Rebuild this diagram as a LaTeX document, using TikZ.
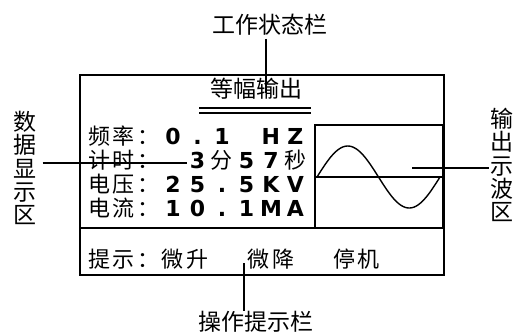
\documentclass[tikz,border=0pt]{standalone}
\usepackage{fontspec}
\setmainfont{Noto Sans CJK SC}
\newfontfamily\latinfont{DejaVu Sans}
\newcommand\gc[1]{\makebox[24.5pt]{#1}}
\newcommand\gd[1]{\makebox[24.5pt]{\latinfont\bfseries #1}}
\newcommand\hs{\makebox[12.25pt]{}}

\begin{document}
\begin{tikzpicture}[x=1pt, y=-1pt,
    label/.style={inner sep=0pt, font=\fontsize{23}{23.4}\selectfont},
    rowtext/.style={inner sep=0pt, anchor=west, font=\fontsize{22}{23}\selectfont},
    leader/.style={line width=1.2pt},
    frame/.style={line width=1.3pt},
    scope/.style={line width=2.2pt},
    wave/.style={line width=1.4pt}]
    \useasboundingbox (0,0) rectangle (514,333);
    \fill[white] (0,0) rectangle (514,333);
    \draw[frame] (80,75) rectangle (444,275);
    \draw[frame] (80,228) -- (444,228);
    \node[label] (status) at (270,25) {工作状态栏};
    \node[label] (title) at (256,89) {等幅输出};
    \draw[frame] (199,108) -- (311,108);
    \draw[frame] (199,113) -- (311,113);
    \node[rowtext] (freq) at (87,136) {\gc{频}\gc{率}\gc{：}\gd{0}\gd{.}\gd{1}\gc{}\gd{H}\gd{Z}};
    \node[rowtext] (timer) at (87,160) {\gc{计}\gc{时}\gc{：}\gc{}\gd{3}\gc{分}\gd{5}\gd{7}\gc{秒}};
    \node[rowtext] (volt) at (87,184) {\gc{电}\gc{压}\gc{：}\gd{2}\gd{5}\gd{.}\gd{5}\gd{K}\gd{V}};
    \node[rowtext] (curr) at (87,208) {\gc{电}\gc{流}\gc{：}\gd{1}\gd{0}\gd{.}\gd{1}\gd{M}\gd{A}};
    \draw[scope] (315,125) rectangle (443,228);
    \draw[scope] (315,177) -- (443,177);
    \draw[wave] plot[domain=0:360, samples=72] ({317+\x/360*123}, {177-31*sin(\x)});
    \node[rowtext] (hint) at (87,259) {\gc{提}\gc{示}\gc{：}\gc{微}\gc{升}\hs\hs\hs\gc{微}\gc{降}\hs\hs\hs\gc{停}\gc{机}};
    \node[label, align=center] (datalbl) at (25,168) {数\\据\\显\\示\\区};
    \node[label, align=center] (wavelbl) at (501.5,165) {输\\出\\示\\波\\区};
    \node[label] (oplbl) at (256,322) {操作提示栏};
    \coordinate (topend) at (266,93);
    \coordinate (leftend) at (187,163);
    \coordinate (rightend) at (412,168);
    \coordinate (botend) at (244,263);
    \draw[leader] (topend |- status.south) ++(0,3) -- (topend);
    \draw[leader] (datalbl.east |- leftend) ++(6,0) -- (leftend);
    \draw[leader] (wavelbl.west |- rightend) ++(-1,0) -- (rightend);
    \draw[leader] (botend) -- (botend |- oplbl.north);
\end{tikzpicture}
\end{document}
